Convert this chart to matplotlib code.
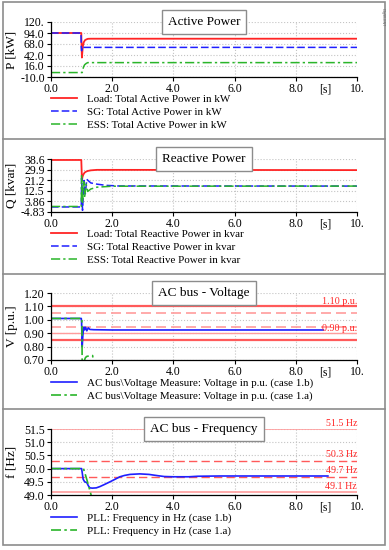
import matplotlib
matplotlib.use("Agg")
import matplotlib.pyplot as plt
from matplotlib.lines import Line2D
from matplotlib.patches import Rectangle

plt.rcParams['font.family'] = ['Liberation Serif', 'DejaVu Serif']

# x axis (time, s)
x_ticks = [0, 2, 4, 6, 8, 10]
x_labels = ["0.0", "2.0", "4.0", "6.0", "8.0", "10."]

# active power [kW]
t_p_load = [0, 0.99, 1.0, 1.01, 1.02, 1.04, 1.07, 1.11, 1.16, 1.21, 1.3, 10]
p_load = [94, 94, 60, 36, 45, 62, 72, 77, 79, 80.3, 80.5, 80.5]
t_p_sg = [0, 0.98, 0.99, 1.0, 1.02, 1.05, 10]
p_sg = [94, 94, 60, 52, 62, 60, 60]
t_p_ess = [0, 1.02, 1.04, 1.07, 1.1, 1.15, 1.2, 10]
p_ess = [0.5, 0.5, 8, 15, 19, 22, 24, 24]
p_ticks = [-10, 16, 42, 68, 94, 120]
p_labels = ["-10.0", "16.0", "42.0", "68.0", "94.0", "120."]

# reactive power [kvar]
t_q_load = [0, 0.99, 1.0, 1.01, 1.03, 1.06, 1.1, 1.15, 1.2, 1.3, 1.5, 2.0, 10]
q_load = [37.8, 37.8, 30, 21, 24, 26, 27.5, 28.3, 28.8, 29.3, 29.7, 29.7, 29.5]
t_q_sg = [0, 0.99, 1.0, 1.03, 1.08, 1.12, 1.17, 1.21, 1.3, 1.5, 1.8, 2.2, 10]
q_sg = [-0.7, -0.7, 23, -3.5, 21, 10, 22, 21, 19, 18, 17, 16.5, 16.4]
t_q_ess = [0, 0.99, 1.0, 1.03, 1.07, 1.1, 1.15, 1.2, 1.3, 1.5, 2.0, 10]
q_ess = [-0.3, -0.3, 25, 3, 20, 8, 18, 12, 14, 15.5, 16.3, 16.4]
q_ticks = [-4.83, 3.86, 12.5, 21.2, 29.9, 38.6]
q_labels = ["-4.83", "3.86", "12.5", "21.2", "29.9", "38.6"]

# AC bus voltage [p.u.]
t_v_b = [0, 0.99, 1.0, 1.02, 1.04, 1.06, 1.08, 1.1, 1.13, 1.17, 1.22, 1.27, 1.4, 2.0, 8.9]
v_b = [1.01, 1.01, 0.98, 0.80, 0.88, 0.93, 0.945, 0.925, 0.944, 0.918, 0.94, 0.928, 0.926, 0.924, 0.924]
t_v_a = [0, 1.01, 1.02, 1.08, 1.12, 1.16, 1.25, 1.36, 1.38]
v_a = [1.01, 1.01, 0.60, 0.69, 0.715, 0.726, 0.731, 0.733, 0.70]
v_ticks = [0.70, 0.80, 0.90, 1.00, 1.10, 1.20]
v_labels = ["0.70", "0.80", "0.90", "1.00", "1.10", "1.20"]
v_limits_solid = [1.10, 0.85]
v_limits_dash = [1.05, 0.95]
v_limit_thin = [0.90]
v_limit_text = {1.10: "1.10 p.u.", 0.90: "0.90 p.u."}

# AC bus frequency [Hz]
t_f_b = [0, 1.0, 1.02, 1.05, 1.1, 1.17, 1.22, 1.27, 1.35, 1.48, 1.6, 1.75, 1.93, 2.1,
         2.25, 2.4, 2.58, 2.9, 3.2, 3.5, 3.7, 4.0, 4.5, 4.8, 5.5, 7.0, 9.05]
f_b = [50, 50, 49.85, 49.6, 49.5, 49.47, 49.35, 49.27, 49.26, 49.27, 49.32, 49.4, 49.5, 49.6,
       49.69, 49.74, 49.78, 49.8, 49.78, 49.73, 49.7, 49.69, 49.69, 49.71, 49.72, 49.72, 49.72]
t_f_a = [0, 1.06, 1.12, 1.18, 1.24, 1.31, 1.34]
f_a = [50, 50, 49.78, 49.55, 49.3, 49.0, 48.9]
f_ticks = [49.0, 49.5, 50.0, 50.5, 51.0, 51.5]
f_labels = ["49.0", "49.5", "50.0", "50.5", "51.0", "51.5"]
f_limits_solid = [51.5, 49.1]
f_limits_dash = [50.3, 49.7]
f_limit_text = {51.5: "51.5 Hz", 50.3: "50.3 Hz", 49.7: "49.7 Hz", 49.1: "49.1 Hz"}

RED = '#ff2424'
BLUE = '#1f1fff'
GREEN = '#2ab52a'
LIM = '#ff5a5a'
LIM2 = '#ff9c9c'
DASH = (0, (5, 2))
DASHDOT = (0, (6, 2, 1.5, 2))

W, H = 389, 550
fig = plt.figure(figsize=(W / 100, H / 100), dpi=100)

# outer frame and separators
fig.add_artist(Rectangle((3 / W, 1 - 545 / H), 382 / W, 543 / H, transform=fig.transFigure,
                         fill=False, edgecolor='#8c8c8c', linewidth=1.2))
for ys in [139, 274, 409]:
    fig.add_artist(Line2D([3 / W, 385 / W], [1 - ys / H, 1 - ys / H], transform=fig.transFigure,
                          color='#8c8c8c', linewidth=1.2))
fig.text(0.983, 0.985, 'DIgSILENT', rotation=270, fontsize=2.5, color='#666666',
         ha='center', va='top', family='DejaVu Sans')


def make_axes(top, bottom, ylim, yticks, ylabels, ylab, title, leg_top):
    ax = fig.add_axes([51 / W, 1 - bottom / H, 306 / W, (bottom - top) / H])
    ax.set_xlim(0, 10)
    ax.set_ylim(*ylim)
    ax.set_xticks(x_ticks, x_labels)
    ax.set_yticks(yticks, ylabels)
    ax.tick_params(labelsize=8.5, length=3, width=0.8, pad=1.5, direction='out')
    for s in ['top', 'right']:
        ax.spines[s].set_visible(False)
    ax.spines['left'].set_linewidth(0.9)
    ax.spines['bottom'].set_linewidth(0.9)
    ax.grid(True, color='#c4c4c4', linestyle=':', linewidth=0.8)
    ax.set_ylabel(ylab, fontsize=9.5)
    ax.yaxis.set_label_coords(-0.108, 0.5)
    ax.annotate('[s]', xy=(8.95, 0), xycoords=('data', 'axes fraction'), xytext=(0, -4.5),
                textcoords='offset points', ha='center', va='top', fontsize=8.5)
    ax.text(0.5, 1.0, title, transform=ax.transAxes, ha='center', va='center', fontsize=9.5,
            zorder=10, clip_on=False,
            bbox=dict(boxstyle='square,pad=0.45', facecolor='white', edgecolor='#8c8c8c', linewidth=1))
    ax._leg_top = leg_top
    return ax


def add_legend(ax):
    ax.legend(loc='upper left', bbox_to_anchor=(51 / W, 1 - ax._leg_top / H),
              bbox_transform=fig.transFigure, frameon=False, fontsize=7.9,
              handlelength=2.4, handletextpad=0.9, labelspacing=0.3,
              borderpad=0, borderaxespad=0)


# panel 1
ax1 = make_axes(22, 77, (-10, 120), p_ticks, p_labels, 'P [kW]', 'Active Power', 94)
ax1.plot(t_p_load, p_load, color=RED, linewidth=1.3, label='Load: Total Active Power in kW')
ax1.plot(t_p_sg, p_sg, color=BLUE, linewidth=1.1, linestyle=DASH, label='SG: Total Active Power in kW')
ax1.plot(t_p_ess, p_ess, color=GREEN, linewidth=1.1, linestyle=DASHDOT, label='ESS: Total Active Power in kW')
add_legend(ax1)

# panel 2
ax2 = make_axes(159, 212, (-4.83, 38.6), q_ticks, q_labels, 'Q [kvar]', 'Reactive Power', 229)
ax2.plot(t_q_load, q_load, color=RED, linewidth=1.3, label='Load: Total Reactive Power in kvar')
ax2.plot(t_q_sg, q_sg, color=BLUE, linewidth=1.1, linestyle=DASH, label='SG: Total Reactive Power in kvar')
ax2.plot(t_q_ess, q_ess, color=GREEN, linewidth=1.1, linestyle=DASHDOT, label='ESS: Total Reactive Power in kvar')
add_legend(ax2)

# panel 3
ax3 = make_axes(293, 360, (0.70, 1.20), v_ticks, v_labels, 'V [p.u.]', 'AC bus - Voltage', 378)
for lv in v_limits_solid:
    ax3.axhline(lv, color=LIM, linewidth=1.6)
for lv in v_limits_dash:
    ax3.axhline(lv, color=LIM2, linewidth=1.2, linestyle=(0, (6, 3)))
for lv in v_limit_thin:
    ax3.axhline(lv, color=LIM2, linewidth=1.0)
for lv, txt in v_limit_text.items():
    ax3.annotate(txt, xy=(10, lv), xytext=(0, 0.5), textcoords='offset points',
                 ha='right', va='bottom', fontsize=7.2, color=RED)
ax3.plot(t_v_b, v_b, color=BLUE, linewidth=1.2, label='AC bus\\Voltage Measure: Voltage in p.u. (case 1.b)')
ax3.plot(t_v_a, v_a, color=GREEN, linewidth=1.2, linestyle=DASHDOT, label='AC bus\\Voltage Measure: Voltage in p.u. (case 1.a)')
add_legend(ax3)

# panel 4
ax4 = make_axes(429, 495, (49.0, 51.5), f_ticks, f_labels, 'f [Hz]', 'AC bus - Frequency', 513)
for lv in f_limits_solid:
    ax4.axhline(lv, color=LIM2, linewidth=1.2)
for lv in f_limits_dash:
    ax4.axhline(lv, color=LIM, linewidth=1.0, linestyle=(0, (6, 3)))
for lv, txt in f_limit_text.items():
    ax4.annotate(txt, xy=(10, lv), xytext=(0, 1), textcoords='offset points',
                 ha='right', va='bottom', fontsize=7.2, color=RED, annotation_clip=False)
ax4.plot(t_f_b, f_b, color=BLUE, linewidth=1.2, label='PLL: Frequency in Hz (case 1.b)')
ax4.plot(t_f_a, f_a, color=GREEN, linewidth=1.2, linestyle=DASHDOT, label='PLL: Frequency in Hz (case 1.a)')
add_legend(ax4)

fig.savefig('out.png', dpi=100)
